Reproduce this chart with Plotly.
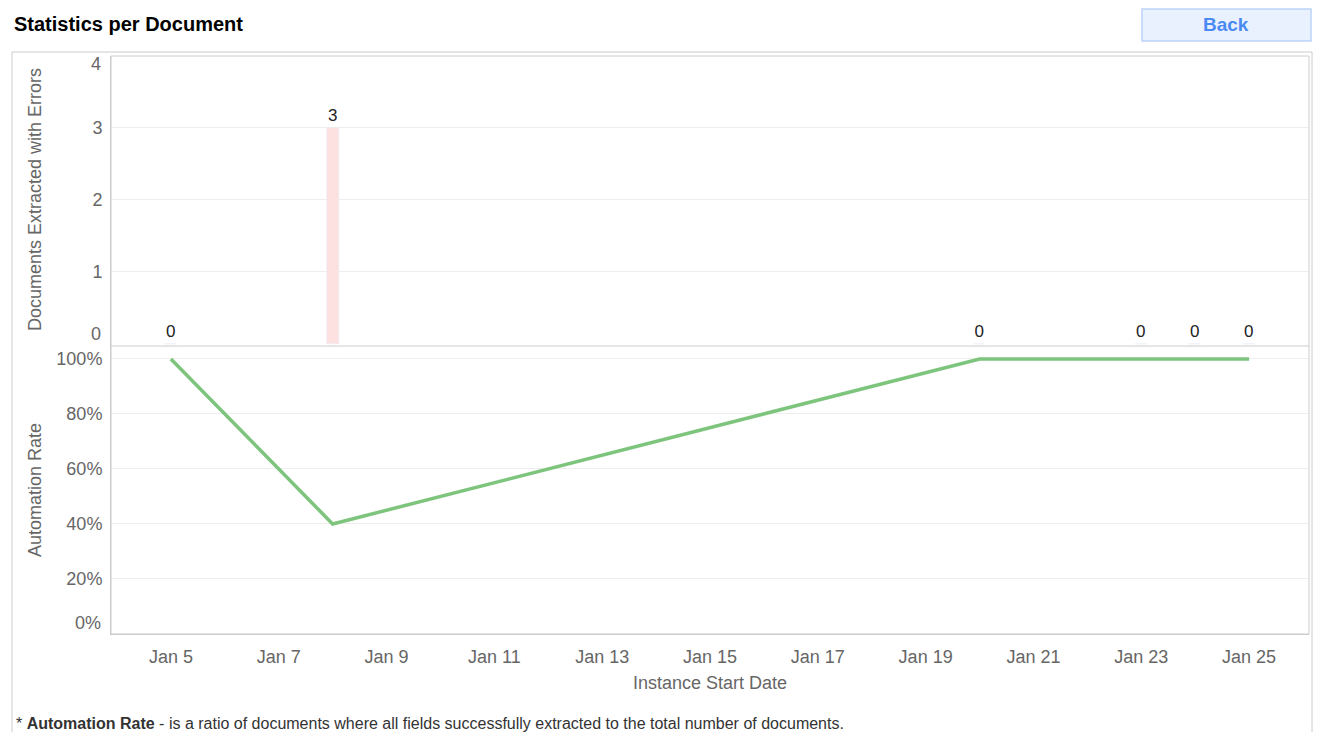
import plotly.graph_objects as go

dates = ["2024-01-05", "2024-01-08", "2024-01-20", "2024-01-23", "2024-01-24", "2024-01-25"]
errors = [0, 3, 0, 0, 0, 0]
rate = [100, 40, 100, 100, 100, 100]
xticks = ["2024-01-%02d" % d for d in range(5, 26, 2)]
xticklabels = ["Jan %d" % d for d in range(5, 26, 2)]
rate_ticks = [0, 20, 40, 60, 80, 100]
rate_labels = ["0%", "20%", "40%", "60%", "80%", "100%"]
err_ticks = [0, 1, 2, 3, 4]

OFF = 8  # page body margin
W, H = 1326 - 2 * OFF, 740 - 2 * OFF
L, R, T, B = 111, 1309, 56, 634
pw, ph = R - L, B - T
def px(x): return (x - L) / pw
def py(y): return (B - y) / ph

fig = go.Figure()
fig.add_trace(go.Bar(x=dates, y=errors, text=[str(v) for v in errors], textposition="outside",
                     textfont=dict(color="#222", size=17), marker_color="#fde0e0",
                     width=0.22 * 86400000, xaxis="x", yaxis="y2", cliponaxis=False, showlegend=False))
fig.add_trace(go.Scatter(x=dates, y=rate, mode="lines", line=dict(color="#7dc47d", width=3.5),
                         xaxis="x", yaxis="y", showlegend=False))

gray = "#666"
FS = 18
fig.update_layout(
    width=W, height=H, margin=dict(l=L - OFF, r=1326 - R - OFF, t=T - OFF, b=740 - B - OFF),
    paper_bgcolor="white", plot_bgcolor="white",
    font=dict(family="Arial, Liberation Sans", size=FS, color=gray),
    bargap=0,
    xaxis=dict(type="date", range=["2024-01-03 21:20", "2024-01-26 02:40"], tickvals=xticks,
               ticktext=xticklabels, showgrid=False, linecolor="#ccc", showline=True,
               ticks="outside", ticklen=6, tickcolor="rgba(0,0,0,0)",
               title=dict(text="Instance Start Date", font=dict(size=FS, color=gray), standoff=10),
               anchor="y"),
    yaxis=dict(domain=[0, py(346)], range=[0, 104.7], tickvals=rate_ticks[1:],
               ticktext=rate_labels[1:], gridcolor="#eee",
               zeroline=False, showline=True, linecolor="#ccc",
               ticks="outside", ticklen=4, tickcolor="rgba(0,0,0,0)"),
    yaxis2=dict(domain=[py(346), 1], range=[-0.03, 4], tickvals=err_ticks[1:4], gridcolor="#eee",
                zeroline=False, showline=True, linecolor="#ccc",
                ticks="outside", ticklen=4, tickcolor="rgba(0,0,0,0)"),
)
shapes = [
    dict(type="rect", xref="paper", yref="paper", x0=px(12), x1=px(1312), y0=py(737), y1=py(52),
         line=dict(color="#ccc", width=1)),
    dict(type="rect", xref="paper", yref="paper", x0=0, x1=1, y0=0, y1=1, line=dict(color="#ccc", width=1)),
    dict(type="line", xref="paper", yref="paper", x0=0, x1=1, y0=py(346), y1=py(346), line=dict(color="#ccc", width=1)),
    dict(type="rect", xref="paper", yref="paper", x0=px(1142), x1=px(1311), y0=py(41), y1=py(9),
         fillcolor="#eaf1fe", line=dict(color="#bcd4f8", width=1.5)),
]
fig.update_layout(shapes=shapes)
def ann(x, y, text, size=FS, color=gray, xanchor="right", angle=0):
    fig.add_annotation(xref="paper", yref="paper", x=px(x), y=py(y), xanchor=xanchor, yanchor="middle",
                       text=text, showarrow=False, textangle=angle, font=dict(size=size, color=color))
# edge tick labels pulled inside, as in the reference
ann(103, 64, str(err_ticks[4]))
ann(103, 334, str(err_ticks[0]))
ann(103, 623, rate_labels[0])
ann(35, 200, "Documents Extracted with Errors", xanchor="center", angle=-90)
ann(35, 490, "Automation Rate", xanchor="center", angle=-90)
ann(12, 24, "<b>Statistics per Document</b>", size=20, color="#000", xanchor="left")
ann(1226, 25, "<b>Back</b>", size=19, color="#4a8af4", xanchor="center")
ann(14, 723, "* <b>Automation Rate</b> - is a ratio of documents where all fields successfully extracted to the total number of documents.",
    size=16, color="#333", xanchor="left")
fig.write_html("out.html")
